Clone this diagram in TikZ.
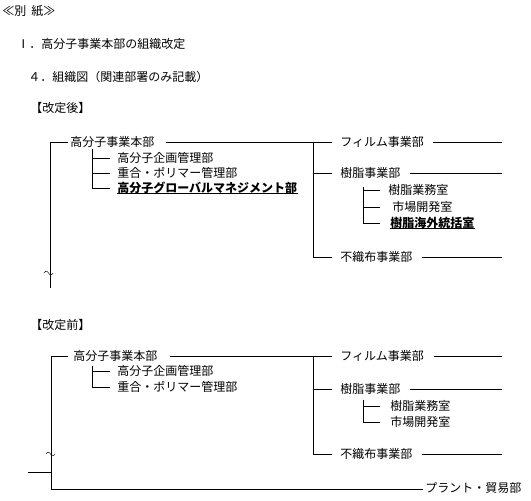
\documentclass[tikz,border=0pt]{standalone}
\usepackage{fontspec}
\setmainfont{Noto Sans CJK JP}
\begin{document}
\begin{tikzpicture}[x=1pt,y=-1pt, line width=0.7pt,
  lbl/.style={anchor=west, inner sep=0pt, font=\fontsize{12}{14}\selectfont},
  bl/.style={anchor=west, inner sep=0pt, font=\fontsize{12}{14}\selectfont\bfseries},
  ul/.style={line width=0.6pt},
  tld/.style={line width=0.5pt}]
\useasboundingbox (0,0) rectangle (531,501);
% titles
\node[lbl] (t0) at (2,11) {≪別\hspace{5pt}紙≫};
\node[lbl] (t1) at (17,44) {Ⅰ．高分子事業本部の組織改定};
\node[lbl] (t2) at (28,77) {４．組織図（関連部署のみ記載）};
\node[lbl] (t3) at (30,108) {【改定後】};
\node[lbl] (t4) at (30,325) {【改定前】};

% ===== after =====
\coordinate (a0) at (50,142);
\coordinate (a1) at (50,288);
\node[lbl] (ahq) at (70,142) {高分子事業本部};
\draw (a1) -- (a0) -- ([xshift=-2pt]ahq.west);
\coordinate (ar0) at (313,142);
\coordinate (ar1) at (313,257);
\draw ([xshift=11pt]ahq.east) -- (ar0) -- (ar1);
% left sub
\coordinate (as0) at (92,149);
\node[lbl] (ap1) at (117,158) {高分子企画管理部};
\node[lbl] (ap2) at (117,173) {重合・ポリマー管理部};
\node[bl] (ap3) at (117,188) {高分子グローバルマネジメント部};
\coordinate (as1) at (92,188);
\draw (as0) -- (as1);
\draw (92,158) -- ([xshift=-7pt]ap1.west);
\draw (92,173) -- ([xshift=-7pt]ap2.west);
\draw (as1) -- ([xshift=-7pt]ap3.west);
\draw[ul] ([yshift=1pt]ap3.south west) -- ([yshift=1pt]ap3.south east);
% right
\node[lbl] (afi) at (340,142) {フィルム事業部};
\node[lbl] (are) at (340,173) {樹脂事業部};
\node[lbl] (anw) at (340,257) {不織布事業部};
\draw (ar0) -- ([xshift=-8pt]afi.west);
\draw (313,173) -- ([xshift=-8pt]are.west);
\draw (ar1) -- ([xshift=-8pt]anw.west);
\coordinate (afiE) at (502,142);
\coordinate (areE) at (502,173);
\coordinate (anwE) at (502,257);
\draw ([xshift=9pt]afi.east) -- (afiE);
\draw ([xshift=9pt]are.east) -- (areE);
\draw ([xshift=9pt]anw.east) -- (anwE);
% resin sub
\node[lbl] (ar1t) at (388,190) {樹脂業務室};
\node[lbl] (ar2t) at (392,207) {市場開発室};
\node[bl] (ar3t) at (390,223) {樹脂海外統括室};
\coordinate (ars0) at (363,187);
\coordinate (ars1) at (363,223);
\draw (ars0) -- (ars1);
\draw (363,190) -- (380,190);
\draw (363,207) -- (380,207);
\draw (ars1) -- (380,223);
\draw[ul] ([yshift=1pt]ar3t.south west) -- ([yshift=1pt]ar3t.south east);
% tilde
\draw[tld] plot[domain=0:1, samples=20] ({44+9*\x},{273-1.8*sin(360*\x)});

% ===== before =====
\coordinate (b0) at (51,356);
\coordinate (b1) at (51,489);
\node[lbl] (bhq) at (73,356) {高分子事業本部};
\draw (b1) -- (b0) -- ([xshift=-5pt]bhq.west);
\coordinate (br0) at (313,356);
\coordinate (br1) at (313,454);
\draw ([xshift=12pt]bhq.east) -- (br0) -- (br1);
\node[lbl] (bp1) at (117,371) {高分子企画管理部};
\node[lbl] (bp2) at (117,387) {重合・ポリマー管理部};
\coordinate (bs0) at (92,366);
\coordinate (bs1) at (92,387);
\draw (bs0) -- (bs1);
\draw (92,371) -- ([xshift=-7pt]bp1.west);
\draw (bs1) -- ([xshift=-7pt]bp2.west);
\node[lbl] (bfi) at (340,356) {フィルム事業部};
\node[lbl] (bre) at (340,389) {樹脂事業部};
\node[lbl] (bnw) at (340,454) {不織布事業部};
\draw (br0) -- ([xshift=-8pt]bfi.west);
\draw (313,389) -- ([xshift=-8pt]bre.west);
\draw (br1) -- ([xshift=-8pt]bnw.west);
\coordinate (bfiE) at (502,356);
\coordinate (breE) at (502,389);
\coordinate (bnwE) at (502,454);
\draw ([xshift=10pt]bfi.east) -- (bfiE);
\draw ([xshift=9pt]bre.east) -- (breE);
\draw ([xshift=9pt]bnw.east) -- (bnwE);
\node[lbl] (br1t) at (390,406) {樹脂業務室};
\node[lbl] (br2t) at (390,422) {市場開発室};
\coordinate (brs0) at (363,400);
\coordinate (brs1) at (363,422);
\draw (brs0) -- (brs1);
\draw (363,406) -- (380,406);
\draw (brs1) -- (380,422);
\draw[tld] plot[domain=0:1, samples=20] ({46+9*\x},{454-1.8*sin(360*\x)});
\coordinate (stub) at (28,472);
\draw (stub) -- (51,472);
\node[lbl] (bpl) at (425,488) {プラント・貿易部};
\draw (b1) -- ([xshift=-2pt]bpl.west |- b1);
\end{tikzpicture}
\end{document}
